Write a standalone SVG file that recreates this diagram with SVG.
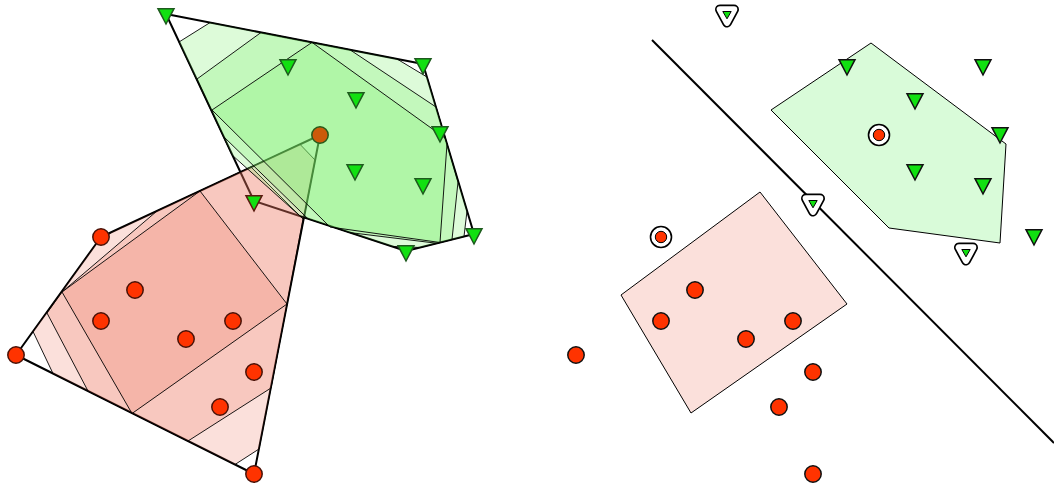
<svg xmlns="http://www.w3.org/2000/svg" xmlns:xlink="http://www.w3.org/1999/xlink" width="1054" height="489" viewBox="0 0 1054 489">
<style>
.hull{fill:none;stroke:#000;stroke-width:2;stroke-linejoin:round}
.pk{fill:rgb(237,118,96);fill-opacity:0.226;stroke:#000;stroke-width:0.9;stroke-linejoin:round}
.gr{fill:rgb(118,238,105);fill-opacity:0.25;stroke:#000;stroke-width:0.9;stroke-linejoin:round}
.rc{fill:#ff3300;stroke:#111;stroke-width:1.5}
.rcl{fill:#ff3300;stroke:#4a1208;stroke-width:1.5}
.gt{fill:#11e011;stroke:#111;stroke-width:1.5}
.gtl{fill:#11e011;stroke:#1e5a1e;stroke-width:1.5}
.pkr{fill:#fbe0db;stroke:#000;stroke-width:1}
.grr{fill:#d9fbd9;stroke:#000;stroke-width:1}
</style>
<defs>
<circle id="c" r="8.2"/>
<path id="t" d="M-8,-5.3 L8,-5.3 L0,10 Z"/>
<g id="mt">
<path d="M-7,-4.5 L7,-4.5 L0,8.5 Z" fill="#000" stroke="#000" stroke-width="10" stroke-linejoin="round"/>
<path d="M-7,-4.5 L7,-4.5 L0,8.5 Z" fill="#fff" stroke="#fff" stroke-width="6.6" stroke-linejoin="round"/>
<path d="M-4.2,-2.5 L4.2,-2.5 L0,4.8 Z" fill="#11e011" stroke="#000" stroke-width="1"/>
</g>
<g id="mc">
<circle r="10.5" fill="#fff" stroke="#000" stroke-width="1.6"/>
<circle r="5.7" fill="#ff3300" stroke="#000" stroke-width="1"/>
</g>
</defs>
<rect width="1054" height="489" fill="#fff"/>

<g id="connectors">
<polygon id="green-hull" class="hull" points="166,14 423,64 474,234 406,251 254,201"/>
<polygon id="red-hull" class="hull" points="16,355 101,237 320,135 254,474"/>
<line id="separator" x1="652" y1="40" x2="1054" y2="443" stroke="#000" stroke-width="2"/>
</g>

<g id="red-layers">
<polygon class="pk" points="33,331.5 97,242.6 112,232 300,144.3 315,160 259,449 235,464.5 53,373.5"/>
<polygon class="pk" points="47,313 62,292 157,211 251,167 303,219 271,388 188,441 88,391"/>
<polygon class="pk" points="62,292 200,191 287,304 132,413.5"/>
</g>

<g id="green-layers">
<polygon class="gr" points="210,22.6 397,59 427,77 467,211 464,236.5 420,247.5 392,246.4 300,216 232,155 179,42"/>
<polygon class="gr" points="261,32.5 350,49.8 436,107 458,182 452,239.5 437,243.3 350,232.6 308,218.8 224,137 197,79"/>
<polygon class="gr" points="312,42.4 445,138 447,144 440,242.5 330,227 212,110"/>
</g>

<g id="right-regions">
<polygon id="green-region" class="grr" points="871,43 1006,144 1000,243 889,228 771,110"/>
<polygon id="red-region" class="pkr" points="760,192 847,304 691,413 621,295"/>
</g>

<g id="left-red-points">
<g id="lr1"><use xlink:href="#c" class="rcl" x="101" y="237"/></g>
<g id="lr2"><use xlink:href="#c" class="rcl" x="16" y="355"/></g>
<g id="lr3"><use xlink:href="#c" class="rcl" x="135" y="290"/></g>
<g id="lr4"><use xlink:href="#c" class="rcl" x="101" y="321"/></g>
<g id="lr5"><use xlink:href="#c" class="rcl" x="186" y="339"/></g>
<g id="lr6"><use xlink:href="#c" class="rcl" x="233" y="321"/></g>
<g id="lr7"><use xlink:href="#c" class="rcl" x="254" y="372"/></g>
<g id="lr8"><use xlink:href="#c" class="rcl" x="220" y="407"/></g>
<g id="lr9"><use xlink:href="#c" class="rcl" x="254" y="474"/></g>
<g id="lr10"><circle cx="320" cy="135" r="8.2" fill="#cc5a0a" stroke="#2a5a1a" stroke-width="1.5"/></g>
</g>

<g id="left-green-points">
<g id="lg1"><use xlink:href="#t" class="gtl" x="166" y="14"/></g>
<g id="lg2"><use xlink:href="#t" class="gtl" x="288" y="65"/></g>
<g id="lg3"><use xlink:href="#t" class="gtl" x="423" y="64"/></g>
<g id="lg4"><use xlink:href="#t" class="gtl" x="356" y="98"/></g>
<g id="lg5"><use xlink:href="#t" class="gtl" x="440" y="132"/></g>
<g id="lg6"><use xlink:href="#t" class="gtl" x="355" y="170"/></g>
<g id="lg7"><use xlink:href="#t" class="gtl" x="423" y="184"/></g>
<g id="lg8"><use xlink:href="#t" class="gtl" x="474" y="234"/></g>
<g id="lg9"><use xlink:href="#t" class="gtl" x="406" y="251"/></g>
<g id="lg10"><use xlink:href="#t" x="254" y="201" fill="#11e011" stroke="#5a1a10" stroke-width="1.5"/></g>
</g>

<g id="right-red-points">
<g id="rr1"><use xlink:href="#c" class="rc" x="576" y="355"/></g>
<g id="rr2"><use xlink:href="#c" class="rc" x="695" y="290"/></g>
<g id="rr3"><use xlink:href="#c" class="rc" x="661" y="321"/></g>
<g id="rr4"><use xlink:href="#c" class="rc" x="746" y="339"/></g>
<g id="rr5"><use xlink:href="#c" class="rc" x="793" y="321"/></g>
<g id="rr6"><use xlink:href="#c" class="rc" x="813" y="372"/></g>
<g id="rr7"><use xlink:href="#c" class="rc" x="779" y="407"/></g>
<g id="rr8"><use xlink:href="#c" class="rc" x="813" y="474"/></g>
<g id="rr9"><use xlink:href="#mc" x="661" y="237"/></g>
<g id="rr10"><use xlink:href="#mc" x="879" y="135"/></g>
</g>

<g id="right-green-points">
<g id="rg1"><use xlink:href="#t" class="gt" x="847" y="65"/></g>
<g id="rg2"><use xlink:href="#t" class="gt" x="983" y="65"/></g>
<g id="rg3"><use xlink:href="#t" class="gt" x="915" y="99"/></g>
<g id="rg4"><use xlink:href="#t" class="gt" x="1000" y="133"/></g>
<g id="rg5"><use xlink:href="#t" class="gt" x="915" y="170"/></g>
<g id="rg6"><use xlink:href="#t" class="gt" x="983" y="184"/></g>
<g id="rg7"><use xlink:href="#t" class="gt" x="1034" y="235"/></g>
<g id="rg8"><use xlink:href="#mt" x="727" y="14"/></g>
<g id="rg9"><use xlink:href="#mt" x="813" y="203"/></g>
<g id="rg10"><use xlink:href="#mt" x="966" y="252"/></g>
</g>
</svg>
